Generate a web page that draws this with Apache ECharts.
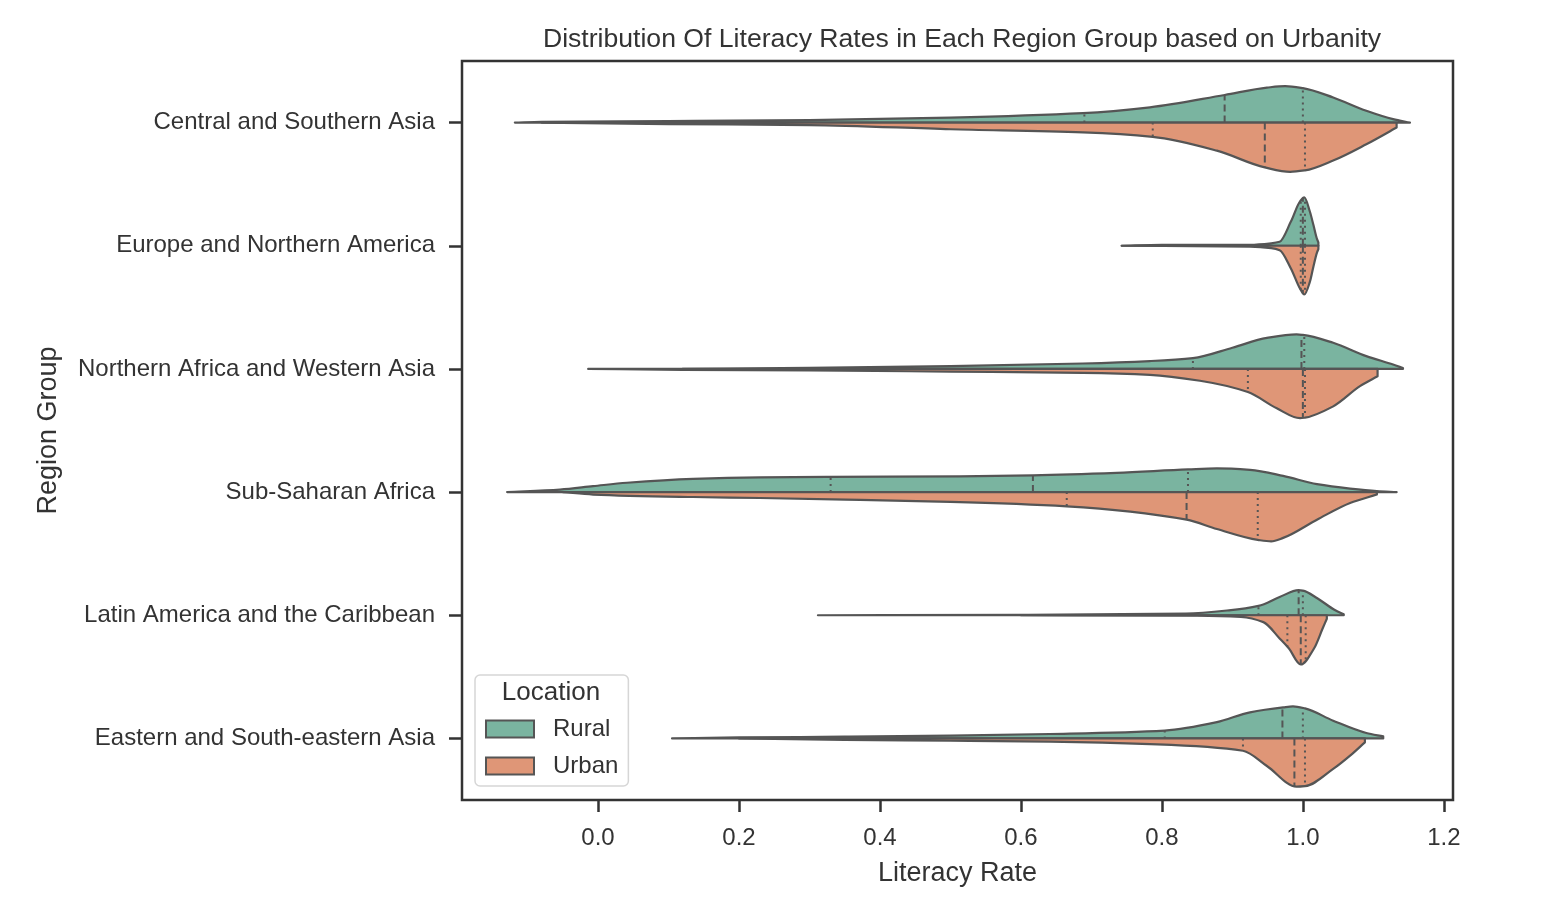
<!DOCTYPE html>
<html>
<head>
<meta charset="utf-8">
<script src="https://cdn.jsdelivr.net/npm/echarts@6/dist/echarts.min.js"></script>
<style>
html,body{margin:0;padding:0;background:#fff;}
#chart{width:1554px;height:898px;}
</style>
</head>
<body>
<div id="chart"></div>
<script>
// ---------------- DATA ----------------
const regions = [
  'Central and Southern Asia',
  'Europe and Northern America',
  'Northern Africa and Western Asia',
  'Sub-Saharan Africa',
  'Latin America and the Caribbean',
  'Eastern and South-eastern Asia'
];
const xTicks = [0.0, 0.2, 0.4, 0.6, 0.8, 1.0, 1.2];
const locations = ['Rural', 'Urban'];

// density profiles: [literacy rate, relative half-width (1 = widest half in group)]
const ruralProfiles = [
  [[-0.118,0],[-0.08,0.016],[0.1,0.03],[0.3,0.05],[0.5,0.10],[0.688,0.19],[0.783,0.31],[0.889,0.56],[0.949,0.71],[0.975,0.74],[1.0,0.70],[1.043,0.51],[1.09,0.24],[1.128,0.07],[1.152,0]],
  [[0.743,0],[0.8,0.02],[0.925,0.02],[0.955,0.05],[0.967,0.08],[0.983,0.49],[0.996,0.9],[1.002,0.98],[1.01,0.69],[1.015,0.42],[1.02,0.14],[1.022,0.07]],
  [[0.12,0],[0.3,0.02],[0.5,0.055],[0.688,0.11],[0.783,0.16],[0.844,0.22],[0.9,0.43],[0.949,0.63],[0.991,0.7],[1.0,0.69],[1.043,0.53],[1.09,0.26],[1.128,0.09],[1.142,0.02]],
  [[-0.129,0],[-0.054,0.05],[-0.007,0.12],[0.041,0.19],[0.135,0.27],[0.23,0.3],[0.329,0.31],[0.513,0.32],[0.617,0.34],[0.736,0.39],[0.837,0.46],[0.878,0.48],[0.925,0.45],[0.972,0.33],[1.02,0.16],[1.067,0.07],[1.105,0.02],[1.133,0]],
  [[0.312,0],[0.6,0.01],[0.834,0.035],[0.895,0.1],[0.937,0.19],[0.967,0.37],[0.994,0.51],[1.0,0.5],[1.021,0.34],[1.046,0.1],[1.058,0.02]],
  [[0.105,0],[0.2,0.02],[0.35,0.035],[0.5,0.055],[0.641,0.09],[0.804,0.16],[0.878,0.33],[0.925,0.53],[0.972,0.63],[0.986,0.65],[1.003,0.61],[1.043,0.36],[1.09,0.11],[1.114,0.04]]
];
const urbanProfiles = [
  [[-0.08,0],[0.1,0.03],[0.3,0.05],[0.5,0.135],[0.688,0.2],[0.787,0.29],[0.878,0.57],[0.946,0.91],[0.982,1.0],[1.003,0.97],[1.043,0.77],[1.09,0.44],[1.133,0.10]],
  [[0.743,0],[0.925,0.02],[0.955,0.05],[0.967,0.09],[0.983,0.46],[0.996,0.87],[1.002,0.99],[1.01,0.73],[1.015,0.42],[1.02,0.14],[1.022,0.07]],
  [[-0.014,0],[0.12,0.02],[0.3,0.03],[0.5,0.055],[0.688,0.08],[0.783,0.12],[0.854,0.24],[0.922,0.47],[0.963,0.8],[0.996,1.0],[1.003,0.99],[1.043,0.76],[1.081,0.35],[1.106,0.15]],
  [[-0.05,0],[-0.007,0.05],[0.135,0.1],[0.23,0.12],[0.372,0.16],[0.5,0.2],[0.665,0.29],[0.835,0.56],[0.878,0.75],[0.936,0.97],[0.955,1.0],[0.972,0.93],[1.02,0.56],[1.067,0.22],[1.105,0.05]],
  [[0.6,0],[0.85,0.01],[0.912,0.035],[0.944,0.14],[0.967,0.47],[0.98,0.67],[0.997,1.0],[1.016,0.67],[1.028,0.27],[1.034,0.07]],
  [[0.2,0],[0.35,0.03],[0.5,0.047],[0.641,0.067],[0.783,0.116],[0.915,0.25],[0.949,0.56],[0.991,0.98],[1.003,0.97],[1.043,0.62],[1.067,0.35],[1.088,0.08]]
];
// [Q1, median, Q3]
const ruralQuartiles = [
  [0.69,0.889,1.0],
  [0.997,1.0,1.003],
  [0.844,0.998,1.002],
  [0.33,0.617,0.837],
  [0.937,0.994,1.0],
  [0.804,0.971,1.0]
];
const urbanQuartiles = [
  [0.787,0.946,1.003],
  [0.997,1.0,1.003],
  [0.922,1.0,1.003],
  [0.665,0.835,0.936],
  [0.978,0.997,1.004],
  [0.915,0.988,1.003]
];

// ---------------- STYLE ----------------
const colors = {Rural:'#7ab4a0', Urban:'#df9677'};
const edge = '#555555';
const FONT = '"Liberation Sans", Arial, Helvetica, sans-serif';

// monotone cubic (PCHIP) tangents on pixel points
function tangents(P){
  const n = P.length, d = [], h = [], m = new Array(n).fill(0);
  for (let k=0;k<n-1;k++){ h[k]=P[k+1][0]-P[k][0]; d[k]=(P[k+1][1]-P[k][1])/h[k]; }
  m[0]=d[0]; m[n-1]=d[n-2];
  for (let k=1;k<n-1;k++){
    if (d[k-1]*d[k] <= 0) m[k]=0;
    else { const w1=2*h[k]+h[k-1], w2=h[k]+2*h[k-1]; m[k]=(w1+w2)/(w1/d[k-1]+w2/d[k]); }
  }
  return m;
}
function evalAt(P, m, x){
  const n=P.length;
  if (x<=P[0][0]) return P[0][1];
  if (x>=P[n-1][0]) return P[n-1][1];
  let k=0; while(k<n-2 && x>P[k+1][0]) k++;
  const h=P[k+1][0]-P[k][0], t=(x-P[k][0])/h;
  const t2=t*t, t3=t2*t;
  return (2*t3-3*t2+1)*P[k][1]+(t3-2*t2+t)*h*m[k]+(-2*t3+3*t2)*P[k+1][1]+(t3-t2)*h*m[k+1];
}

function makeRender(profiles, quarts, sign){
  return function(params, api){
    const i = params.dataIndex;
    const prof = profiles[i];
    const band = api.size([0,1])[1];
    const half = band*0.4;
    const cy = api.coord([0,i])[1];
    const P = prof.map(p => [api.coord([p[0], i])[0], cy + sign*p[1]*half]);
    const m = tangents(P);
    let d = 'M' + P[0][0] + ' ' + cy + ' L' + P[0][0] + ' ' + P[0][1];
    for (let k=0;k<P.length-1;k++){
      const h = P[k+1][0]-P[k][0];
      let c1y = P[k][1] + m[k]*h/3, c2y = P[k+1][1] - m[k+1]*h/3;
      if (sign<0){ c1y=Math.min(c1y,cy); c2y=Math.min(c2y,cy); } else { c1y=Math.max(c1y,cy); c2y=Math.max(c2y,cy); }
      d += ' C' + (P[k][0]+h/3) + ' ' + c1y + ' ' + (P[k+1][0]-h/3) + ' ' + c2y + ' ' + P[k+1][0] + ' ' + P[k+1][1];
    }
    d += ' L' + P[P.length-1][0] + ' ' + cy + ' Z';
    const children = [{
      type:'path',
      shape:{pathData:d},
      style:{fill:api.visual('color'), stroke:edge, lineWidth:2.2, lineJoin:'round'}
    }];
    quarts[i].forEach((q, qi) => {
      const qx = api.coord([q, i])[0];
      const qy = evalAt(P, m, qx);
      children.push({
        type:'line',
        shape:{x1:qx, y1:cy, x2:qx, y2:qy},
        style:{stroke:edge, lineWidth:2, lineDash: qi===1 ? [7,4] : [2,4]}
      });
    });
    return {type:'group', children};
  };
}

const chart = echarts.init(document.getElementById('chart'), null, {renderer:'canvas'});
const catIdx = regions.map((_, i) => [0, i]);

chart.setOption({
  backgroundColor:'#ffffff',
  animation:false,
  textStyle:{fontFamily:FONT},
  title:{
    text:'Distribution Of Literacy Rates in Each Region Group based on Urbanity',
    left:957, top:21, textAlign:'center',
    textStyle:{fontFamily:FONT, fontSize:26.6, fontWeight:'normal', color:'#333'}
  },
  grid:{left:462, top:61, width:991, height:739, show:true, borderColor:'#333', borderWidth:2.5, backgroundColor:'transparent'},
  xAxis:{
    type:'value', min:-0.193, max:1.213,
    name:'Literacy Rate', nameLocation:'middle', nameGap:60,
    nameTextStyle:{fontFamily:FONT, fontSize:27, color:'#333'},
    axisLine:{show:false, onZero:false},
    splitLine:{show:false},
    axisTick:{show:true, length:12, lineStyle:{color:'#333', width:2.5}, customValues:xTicks},
    axisLabel:{fontFamily:FONT, fontSize:24, color:'#333', margin:26, customValues:xTicks,
      formatter: v => v.toFixed(1)}
  },
  yAxis:{
    type:'category', data:regions, inverse:true,
    name:'Region Group', nameLocation:'middle', nameGap:400, nameRotate:90,
    nameTextStyle:{fontFamily:FONT, fontSize:27, color:'#333'},
    axisLine:{show:false, onZero:false},
    splitLine:{show:false},
    axisTick:{show:true, alignWithLabel:true, length:13, lineStyle:{color:'#333', width:2.5}},
    axisLabel:{fontFamily:FONT, fontSize:24, color:'#333', margin:27}
  },
  legend:{
    orient:'vertical', left:475, top:675,
    data:locations, icon:'rect',
    itemWidth:48, itemHeight:17, itemGap:13,
    padding:[42,10,8,10],
    borderColor:'#d6d6d6', borderWidth:1.5, borderRadius:5,
    backgroundColor:'rgba(255,255,255,0.8)',
    textStyle:{fontFamily:FONT, fontSize:24, color:'#333', padding:[0,0,0,14]},
    selectedMode:false
  },
  graphic:[{
    type:'text', z:100,
    x:551, y:693,
    style:{text:'Location', fontFamily:FONT, fontSize:26, fill:'#333', align:'center', verticalAlign:'middle'}
  }],
  series:[
    {
      name:'Rural', type:'custom', coordinateSystem:'cartesian2d',
      itemStyle:{color:colors.Rural, borderColor:edge, borderWidth:1},
      encode:{x:0, y:1},
      data:catIdx,
      renderItem:makeRender(ruralProfiles, ruralQuartiles, -1)
    },
    {
      name:'Urban', type:'custom', coordinateSystem:'cartesian2d',
      itemStyle:{color:colors.Urban, borderColor:edge, borderWidth:1},
      encode:{x:0, y:1},
      data:catIdx,
      renderItem:makeRender(urbanProfiles, urbanQuartiles, 1)
    }
  ]
});
</script>
</body>
</html>
